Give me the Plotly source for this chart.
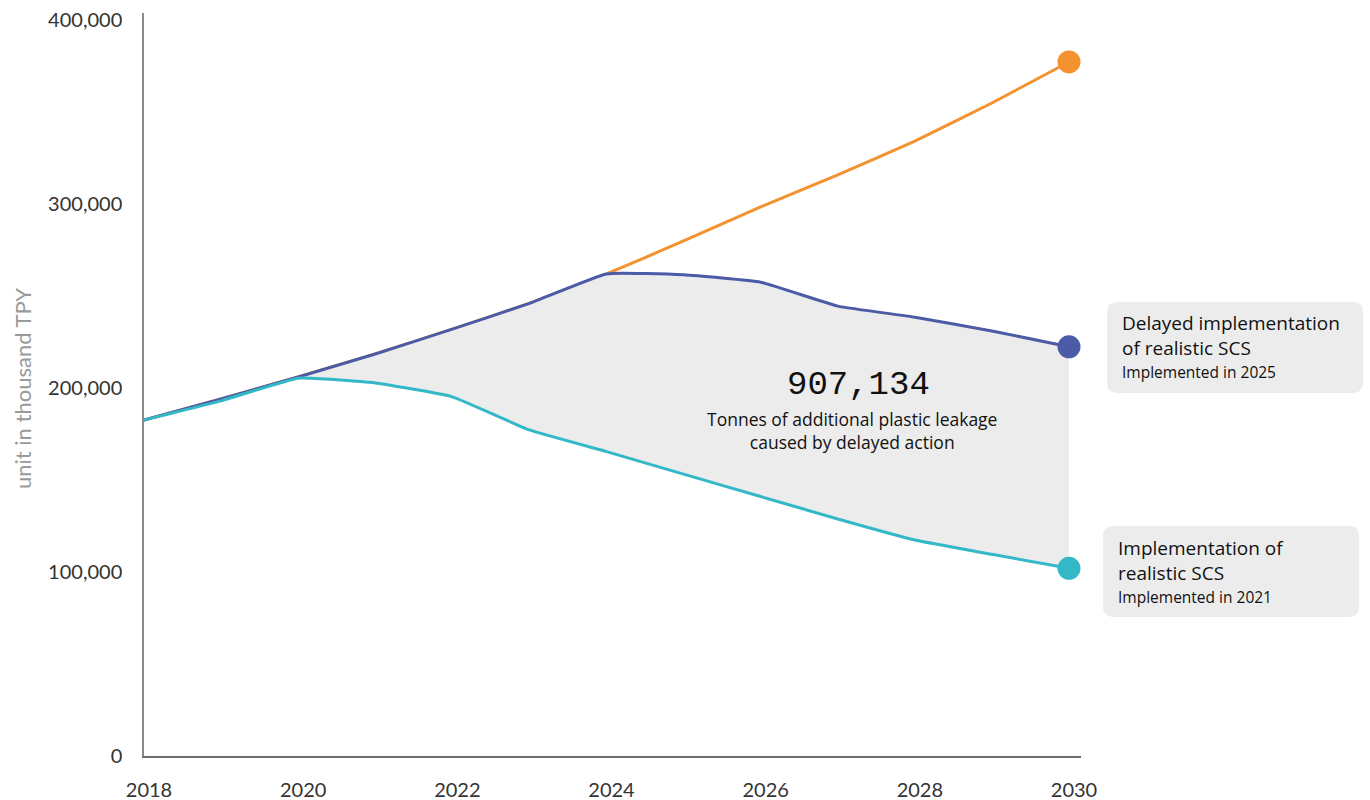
import plotly.graph_objects as go

# Years on the horizontal axis
years = [2018, 2019, 2020, 2021, 2022, 2023, 2024, 2025, 2026, 2027, 2028, 2029, 2030]

# Plastic leakage, thousand tonnes per year
business_as_usual = [182600, 194000, 206000, 218500, 232000, 246000, 262000,
                     279900, 298400, 315800, 334200, 354900, 377200]
delayed_scs = [182600, 194000, 206000, 218500, 232000, 246000, 262000,
               261500, 257500, 244500, 238500, 231000, 222400]
early_scs = [182600, 193000, 205300, 202700, 195200, 177200, 165400,
             153200, 141000, 128800, 117400, 109600, 102000]

y_ticks = [0, 100000, 200000, 300000, 400000]
x_ticks = [2018, 2020, 2022, 2024, 2026, 2028, 2030]

ORANGE = "#F3922F"
BLUE = "#4B5BA6"
CYAN = "#32B8C6"
FILL = "#ECECEC"
TICK_FONT = "Lato"
TEXT_FONT = "Open Sans"
SMOOTH = 0.35

# plot area in pixels
W, H = 1370, 800
L, R, T, B = 144, 1081, 13, 756


def px(x):
    return (x - L) / (R - L)


def py(y):
    return (B - y) / (B - T)


fig = go.Figure()

fig.add_trace(go.Scatter(
    x=years, y=business_as_usual, mode="lines",
    line=dict(color=ORANGE, width=3, shape="spline", smoothing=SMOOTH),
    hoverinfo="skip", showlegend=False))

fig.add_trace(go.Scatter(
    x=years, y=delayed_scs, mode="lines",
    line=dict(color=BLUE, width=3, shape="spline", smoothing=SMOOTH),
    hoverinfo="skip", showlegend=False))

fig.add_trace(go.Scatter(
    x=years, y=early_scs, mode="lines", fill="tonexty", fillcolor=FILL,
    line=dict(color=CYAN, width=3, shape="spline", smoothing=SMOOTH),
    hoverinfo="skip", showlegend=False))

# end-point dots
for series, color in [(business_as_usual, ORANGE), (delayed_scs, BLUE), (early_scs, CYAN)]:
    fig.add_trace(go.Scatter(
        x=[years[-1]], y=[series[-1]], mode="markers",
        marker=dict(color=color, size=23, line=dict(width=0)),
        hoverinfo="skip", showlegend=False, cliponaxis=False))


def rounded_box(x0, y0, x1, y1, r):
    # rounded rectangle path in paper coordinates, built from pixel corners
    pts = [
        f"M {px(x0 + r)},{py(y0)}",
        f"L {px(x1 - r)},{py(y0)}",
        f"Q {px(x1)},{py(y0)} {px(x1)},{py(y0 + r)}",
        f"L {px(x1)},{py(y1 - r)}",
        f"Q {px(x1)},{py(y1)} {px(x1 - r)},{py(y1)}",
        f"L {px(x0 + r)},{py(y1)}",
        f"Q {px(x0)},{py(y1)} {px(x0)},{py(y1 - r)}",
        f"L {px(x0)},{py(y0 + r)}",
        f"Q {px(x0)},{py(y0)} {px(x0 + r)},{py(y0)} Z",
    ]
    return dict(type="path", xref="paper", yref="paper", path=" ".join(pts),
                fillcolor=FILL, line=dict(width=0), layer="below")


shapes = [rounded_box(1107, 302, 1363, 393, 11),
          rounded_box(1103, 526, 1359, 617, 11)]

annotations = []


def label(text, x, y, size, color="#111111", family=TEXT_FONT, xanchor="left",
          angle=0, align="left"):
    annotations.append(dict(
        text=text, x=px(x), y=py(y), xref="paper", yref="paper",
        xanchor=xanchor, yanchor="middle", showarrow=False, textangle=angle,
        align=align, font=dict(family=family, size=size, color=color)))


label("Delayed implementation<br>of realistic SCS", 1120, 336, 19)
label("Implemented in 2025", 1120, 372, 15.5)

label("Implementation of<br>realistic SCS", 1116, 560, 19)
label("Implemented in 2021", 1116, 597, 15.5)

label("907,134", 858, 385, 34, family="Liberation Mono", xanchor="center")
label("Tonnes of additional plastic leakage<br>caused by delayed action",
      852, 430.5, 17.5, xanchor="center", align="center")

label("unit in thousand TPY", 22, 389, 22, color="#9A9A9A",
      family=TICK_FONT, xanchor="center", angle=-90)

fig.update_layout(
    width=W, height=H,
    margin=dict(l=L, r=W - R, t=T, b=H - B, pad=0, autoexpand=False),
    paper_bgcolor="white", plot_bgcolor="white",
    shapes=shapes, annotations=annotations,
    font=dict(family=TICK_FONT, color="#333333"),
    hovermode=False,
)

fig.update_xaxes(
    range=[2018, 2030 + 12 * (R - 1069) / (1069 - L)],
    tickvals=x_ticks, ticktext=[str(v) for v in x_ticks],
    showgrid=False, zeroline=False, automargin=False,
    showline=True, linecolor="#6E6E6E", linewidth=1.5,
    ticks="", ticklabelstandoff=15, ticklabelshift=5,
    tickfont=dict(family=TICK_FONT, size=20, color="#333333"),
)

fig.update_yaxes(
    range=[0, (B - T) / 1.84 * 1000],
    tickvals=y_ticks, tickformat=",",
    showgrid=False, zeroline=False, automargin=False,
    showline=True, linecolor="#8A8A8A", linewidth=1.5,
    ticks="", ticklabelstandoff=16,
    tickfont=dict(family=TICK_FONT, size=20, color="#333333"),
)

fig.write_html("out.html")
